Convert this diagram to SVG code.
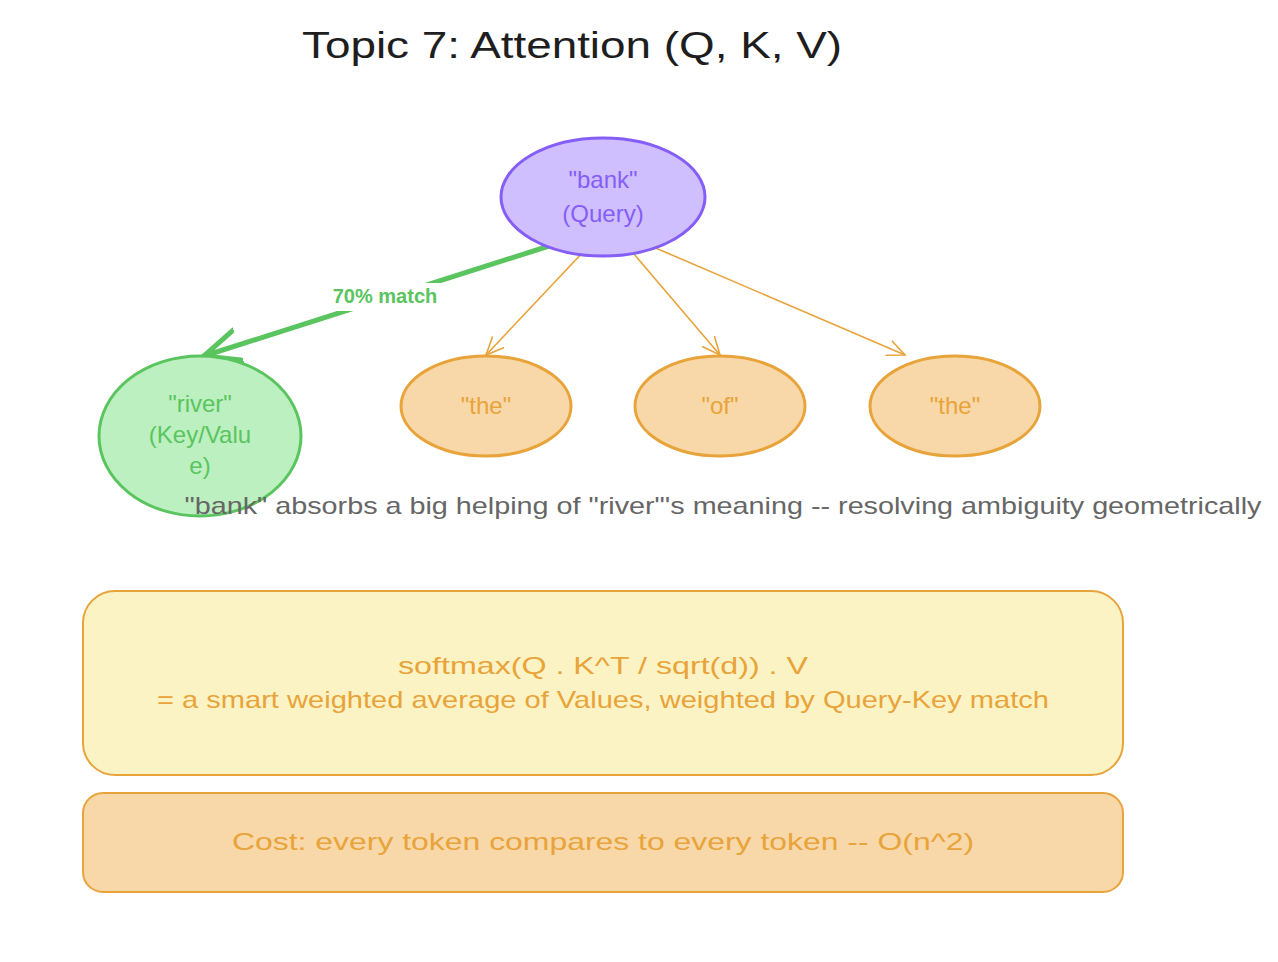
<svg xmlns="http://www.w3.org/2000/svg" width="1278" height="962" viewBox="0 0 1278 962">
<defs>
<style>
text{font-family:"Liberation Sans","DejaVu Sans",sans-serif;text-anchor:middle}
.o{fill:#f8d8a8;stroke:#e8a33a;stroke-width:3}
.ot{fill:#e8a33a;font-size:24px}
.oa{stroke:#e8a33a;stroke-width:1.6;fill:none}
</style>
<marker id="ao" viewBox="0 0 20 20" refX="18" refY="10" markerWidth="20" markerHeight="20" markerUnits="userSpaceOnUse" orient="auto"><path d="M0,2 L18,10 L0,18" fill="none" stroke="#e8a33a" stroke-width="1.6"/></marker>
<marker id="ag" viewBox="0 0 40 40" refX="36" refY="20" markerWidth="40" markerHeight="40" markerUnits="userSpaceOnUse" orient="auto"><path d="M0,4 L36,20 L0,36" fill="none" stroke="#5ac45f" stroke-width="5" stroke-linecap="round"/></marker>
</defs>
<rect width="1278" height="962" fill="#fff"/>
<text x="572" y="58" font-size="36" fill="#1e1e1e" textLength="540" lengthAdjust="spacingAndGlyphs">Topic 7: Attention (Q, K, V)</text>
<g id="connectors">
<line x1="568" y1="240" x2="204" y2="356" stroke="#5ac45f" stroke-width="5" stroke-linecap="round" marker-end="url(#ag)"/>
<rect x="318" y="283" width="134" height="28" fill="#fff"/>
<text x="385" y="303" font-size="20" fill="#5ac45f" font-weight="bold">70% match</text>
<line class="oa" x1="585" y1="250" x2="486" y2="355" marker-end="url(#ao)"/>
<line class="oa" x1="622" y1="240" x2="720" y2="355" marker-end="url(#ao)"/>
<line class="oa" x1="637" y1="240" x2="905" y2="355" marker-end="url(#ao)"/>
</g>
<g id="query">
<ellipse cx="603" cy="197" rx="102" ry="59" fill="#d0bfff" stroke="#845ef7" stroke-width="3"/>
<text x="603" y="188" font-size="24" fill="#845ef7">"bank"</text>
<text x="603" y="222" font-size="24" fill="#845ef7">(Query)</text>
</g>
<g id="river">
<ellipse cx="200" cy="436" rx="101" ry="80" fill="#bdf0c0" stroke="#5ac45f" stroke-width="3"/>
<text x="200" y="412" font-size="24" fill="#5ac45f">"river"</text>
<text x="200" y="443" font-size="24" fill="#5ac45f">(Key/Valu</text>
<text x="200" y="474" font-size="24" fill="#5ac45f">e)</text>
</g>
<g id="the1"><ellipse class="o" cx="486" cy="406" rx="85" ry="50"/><text class="ot" x="486" y="414">"the"</text></g>
<g id="of"><ellipse class="o" cx="720" cy="406" rx="85" ry="50"/><text class="ot" x="720" y="414">"of"</text></g>
<g id="the2"><ellipse class="o" cx="955" cy="406" rx="85" ry="50"/><text class="ot" x="955" y="414">"the"</text></g>
<g id="caption">
<text x="723" y="514" font-size="24" fill="#666" textLength="1077" lengthAdjust="spacingAndGlyphs">"bank" absorbs a big helping of "river"'s meaning -- resolving ambiguity geometrically</text>
</g>
<g id="formula">
<rect x="83" y="591" width="1040" height="184" rx="32" fill="#fcf3c4" stroke="#e8a33a" stroke-width="2"/>
<text class="ot" x="603" y="674" textLength="410" lengthAdjust="spacingAndGlyphs">softmax(Q . K^T / sqrt(d)) . V</text>
<text class="ot" x="603" y="708" textLength="892" lengthAdjust="spacingAndGlyphs">= a smart weighted average of Values, weighted by Query-Key match</text>
</g>
<g id="cost">
<rect x="83" y="793" width="1040" height="99" rx="20" fill="#f8d8a8" stroke="#e8a33a" stroke-width="2"/>
<text class="ot" x="603" y="850" textLength="742" lengthAdjust="spacingAndGlyphs">Cost: every token compares to every token -- O(n^2)</text>
</g>
</svg>
